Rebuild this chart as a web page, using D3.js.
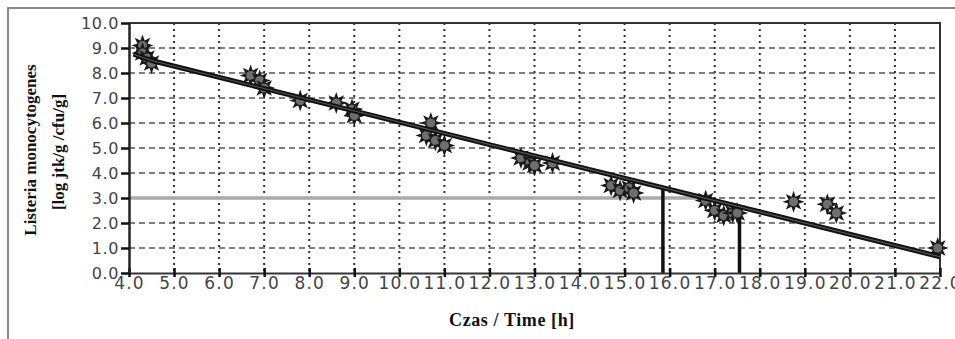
<!DOCTYPE html>
<html>
<head>
<meta charset="utf-8">
<script src="https://cdn.jsdelivr.net/npm/d3@7"></script>
<style>
  body { margin: 0; background: #fff; }
  svg { display: block; }
</style>
</head>
<body>
<div id="chart"></div>
<script>
// measured points: time [h], log cfu/g
var timeH = [4.3, 4.3, 4.4, 4.5, 6.7, 6.9, 7.0, 7.8, 8.6, 8.95, 9.0,
             10.7, 10.6, 10.8, 11.0, 12.7, 12.9, 13.0, 13.4,
             14.7, 14.9, 15.1, 15.2, 16.8, 17.0, 17.2, 17.4, 17.5,
             18.75, 19.5, 19.7, 21.95];
var logCount = [9.1, 8.8, 8.6, 8.4, 7.9, 7.7, 7.4, 6.9, 6.8, 6.55, 6.3,
                6.0, 5.5, 5.3, 5.1, 4.6, 4.4, 4.3, 4.4,
                3.5, 3.3, 3.4, 3.2, 2.9, 2.5, 2.3, 2.4, 2.4,
                2.85, 2.75, 2.4, 1.0];
// fitted line
var fitX = [4.1, 4.5, 22.0];
var fitY = [8.75, 8.5, 0.65];
// drop lines from the fit down to the axis
var dropX = [15.85, 17.55];
var dropY = [3.4, 2.65];
// 3.0 log level
var limitY = 3.0;
var limitX = [4.0, 16.75];

var xTicks = d3.range(4, 22.01, 1);
var yTicks = d3.range(0, 10.01, 1);

var width = 955, height = 339;
var margin = {top: 23, right: 15, bottom: 66, left: 129};

var svg = d3.select('#chart').append('svg')
    .attr('width', width)
    .attr('height', height);

// outer frame (top + left only)
svg.append('path')
    .attr('d', 'M8,339 L8,8 L955,8')
    .attr('fill', 'none')
    .attr('stroke', '#888')
    .attr('stroke-width', 2);

var x = d3.scaleLinear().domain([4, 22]).range([margin.left, width - margin.right]);
var y = d3.scaleLinear().domain([0, 10]).range([height - margin.bottom, margin.top]);

// grid
svg.append('g').selectAll('line').data(yTicks.filter(function (d) { return d > 0 && d < 10; }))
    .enter().append('line')
    .attr('x1', x(4)).attr('x2', x(22))
    .attr('y1', function (d) { return y(d); }).attr('y2', function (d) { return y(d); })
    .attr('stroke', '#555')
    .attr('stroke-width', 1.5)
    .attr('stroke-dasharray', '6,4');

svg.append('g').selectAll('line').data(xTicks.filter(function (d) { return d > 4 && d < 22; }))
    .enter().append('line')
    .attr('x1', function (d) { return x(d); }).attr('x2', function (d) { return x(d); })
    .attr('y1', y(10)).attr('y2', y(0))
    .attr('stroke', '#333')
    .attr('stroke-width', 2)
    .attr('stroke-dasharray', '2,4');

// plot border top/right
svg.append('path')
    .attr('d', 'M' + x(4) + ',' + y(10) + ' L' + x(22) + ',' + y(10) + ' L' + x(22) + ',' + y(0))
    .attr('fill', 'none')
    .attr('stroke', '#333')
    .attr('stroke-width', 2);

// 3.0 level line
svg.append('line')
    .attr('x1', x(limitX[0])).attr('x2', x(limitX[1]))
    .attr('y1', y(limitY)).attr('y2', y(limitY))
    .attr('stroke', '#aaa')
    .attr('stroke-width', 3.5);

// drop lines
dropX.forEach(function (d, i) {
    svg.append('line')
        .attr('x1', x(d)).attr('x2', x(d))
        .attr('y1', y(0)).attr('y2', y(dropY[i]))
        .attr('stroke', '#111')
        .attr('stroke-width', 3.5);
});

// markers: spiky star with grey centre
function starPath(r1, r2, n) {
    var pts = [];
    for (var k = 0; k < n * 2; k++) {
        var r = k % 2 === 0 ? r1 : r2;
        var a = Math.PI * k / n - Math.PI / 2;
        pts.push([r * Math.cos(a), r * Math.sin(a)]);
    }
    return 'M' + pts.map(function (p) { return p[0].toFixed(2) + ',' + p[1].toFixed(2); }).join('L') + 'Z';
}
var star = starPath(11, 5.5, 8);
var marks = svg.append('g');
timeH.forEach(function (t, i) {
    var g = marks.append('g')
        .attr('transform', 'translate(' + x(t) + ',' + y(logCount[i]) + ')');
    g.append('path').attr('d', star).attr('fill', '#1a1a1a');
    g.append('circle').attr('r', 4.5).attr('fill', '#6e6e6e');
});

// fitted line
var line = d3.line()
    .x(function (d, i) { return x(fitX[i]); })
    .y(function (d, i) { return y(fitY[i]); });
svg.append('path')
    .attr('d', line(fitX))
    .attr('fill', 'none')
    .attr('stroke', '#111')
    .attr('stroke-width', 5)
    .attr('stroke-linejoin', 'round');
svg.append('path')
    .attr('d', line(fitX))
    .attr('fill', 'none')
    .attr('stroke', '#555')
    .attr('stroke-width', 1.2);

// axes
var xAxis = svg.append('g')
    .attr('transform', 'translate(0,' + y(0) + ')')
    .call(d3.axisBottom(x).tickValues(xTicks).tickSize(4).tickSizeOuter(0)
        .tickFormat(d3.format('.1f')));
xAxis.select('.domain').attr('stroke', '#333').attr('stroke-width', 2);
xAxis.selectAll('.tick line').attr('y1', -5).attr('stroke', '#111').attr('stroke-width', 2.5);
xAxis.selectAll('.tick text')
    .attr('y', 16)
    .attr('dy', 0)
    .attr('fill', '#444')
    .style('font-family', 'DejaVu Sans, sans-serif')
    .style('font-size', '17px')
    .style('letter-spacing', '1.2px');

var yAxis = svg.append('g')
    .attr('transform', 'translate(' + x(4) + ',0)')
    .call(d3.axisLeft(y).tickValues(yTicks).tickSize(8).tickSizeOuter(0)
        .tickFormat(d3.format('.1f')));
yAxis.select('.domain').attr('stroke', '#222').attr('stroke-width', 2.5);
yAxis.selectAll('.tick line').attr('stroke', '#111').attr('stroke-width', 2.5);
yAxis.selectAll('.tick text')
    .attr('x', -10)
    .attr('dy', '0.36em')
    .attr('fill', '#444')
    .style('font-family', 'DejaVu Sans, sans-serif')
    .style('font-size', '16px')
    .style('letter-spacing', '0.6px');

// titles
svg.append('text')
    .text('Czas / Time [h]')
    .attr('x', 512).attr('y', 326)
    .attr('text-anchor', 'middle')
    .style('font-family', 'Liberation Serif, serif')
    .style('font-weight', 'bold')
    .style('font-size', '18px')
    .style('letter-spacing', '0.6px')
    .attr('fill', '#111');

svg.append('text')
    .text('Listeria monocytogenes')
    .attr('transform', 'translate(36,150) rotate(-90)')
    .attr('text-anchor', 'middle')
    .style('font-family', 'Liberation Serif, serif')
    .style('font-weight', 'bold')
    .style('font-size', '17px')
    .attr('fill', '#111');

svg.append('text')
    .text('[log jtk/g /cfu/g]')
    .attr('transform', 'translate(64,152) rotate(-90)')
    .attr('text-anchor', 'middle')
    .style('font-family', 'Liberation Serif, serif')
    .style('font-weight', 'bold')
    .style('font-size', '17px')
    .attr('fill', '#111');
</script>
</body>
</html>
